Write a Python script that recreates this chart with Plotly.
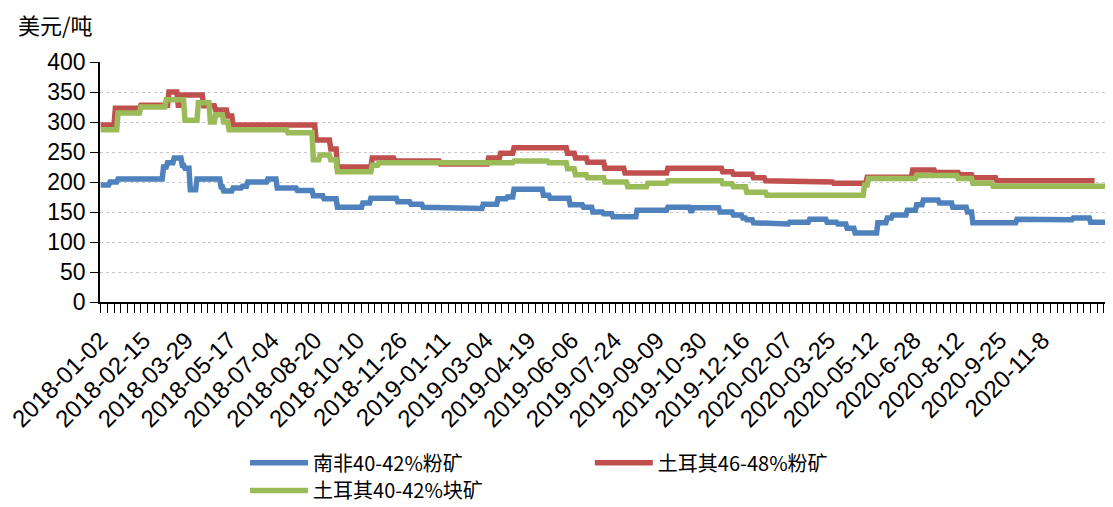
import plotly.graph_objects as go

# ---- data (run-length: start index -> value) ----
N = 755
tick_labels = ["2018-01-02", "2018-02-15", "2018-03-29", "2018-05-17", "2018-07-04",
               "2018-08-20", "2018-10-10", "2018-11-26", "2019-01-11", "2019-03-04",
               "2019-04-19", "2019-06-06", "2019-07-24", "2019-09-09", "2019-10-30",
               "2019-12-16", "2020-02-07", "2020-03-25", "2020-05-12", "2020-6-28",
               "2020-8-12", "2020-9-25", "2020-11-8"]
label_step = 32

sa_start = [0, 7, 13, 47, 50, 55, 61, 63, 67, 72, 90, 92, 99, 106, 110, 125, 132, 147,
            159, 167, 177, 196, 202, 222, 232, 241, 254, 286, 297, 304, 309, 331, 336,
            351, 361, 368, 376, 383, 401, 424, 441, 443, 463, 473, 480, 483, 488, 498,
            515, 530, 543, 551, 558, 564, 581, 588, 592, 603, 610, 615, 627, 637, 648,
            652, 685, 717, 727, 740]
sa_val = [195, 200, 205, 225, 232, 240, 228, 223, 187, 205, 192, 185, 190, 193, 200, 205,
          190, 186, 177, 172, 158, 165, 173, 167, 163, 158, 156, 163, 172, 175, 188, 178,
          173, 162, 158, 150, 147, 142, 153, 158, 152, 157, 150, 145, 140, 137, 132, 130,
          133, 138, 133, 130, 123, 115, 132, 140, 145, 153, 162, 170, 165, 158, 150, 132,
          138, 137, 140, 133]

tr46_start = [0, 11, 30, 51, 58, 61, 77, 86, 95, 99, 161, 172, 177, 203, 220, 254, 290,
              299, 309, 349, 355, 364, 377, 392, 424, 465, 473, 488, 497, 542, 548, 573,
              607, 624, 642, 652, 670]
tr46_val = [295, 323, 328, 350, 328, 345, 327, 320, 310, 295, 270, 255, 225, 240, 235, 230,
            240, 248, 257, 248, 240, 233, 223, 215, 223, 217, 213, 207, 202, 200, 198, 208,
            220, 216, 212, 207, 202]
tr46_end = 744

tr40_start = [0, 13, 30, 49, 63, 73, 82, 86, 92, 96, 140, 159, 164, 172, 177, 203, 208,
              309, 335, 349, 355, 364, 377, 394, 409, 424, 465, 473, 483, 498, 571, 574,
              610, 641, 652, 667]
tr40_val = [287, 315, 325, 337, 303, 332, 300, 312, 300, 287, 282, 237, 245, 237, 217, 228,
            232, 235, 232, 222, 212, 207, 200, 192, 198, 202, 197, 192, 183, 178, 195, 206,
            211, 206, 198, 193]


def expand(starts, vals, n, end=None):
    stop = n if end is None else end
    out = [None] * n
    for i, s in enumerate(starts):
        e = starts[i + 1] if i + 1 < len(starts) else stop
        for k in range(s, e):
            out[k] = vals[i]
    return out


x = list(range(N))
sa = expand(sa_start, sa_val, N)
tr46 = expand(tr46_start, tr46_val, N, tr46_end)
tr40 = expand(tr40_start, tr40_val, N)

LW = 5.5
fig = go.Figure()
fig.add_trace(go.Scatter(x=x, y=sa, mode="lines", name="南非40-42%粉矿",
                         line=dict(color="#4F81BD", width=LW), legend="legend"))
fig.add_trace(go.Scatter(x=x, y=tr46, mode="lines", name="土耳其46-48%粉矿",
                         line=dict(color="#C0504D", width=LW), legend="legend2"))
fig.add_trace(go.Scatter(x=x, y=tr40, mode="lines", name="土耳其40-42%块矿",
                         line=dict(color="#9BBB59", width=LW), legend="legend3"))

tickvals = [i * label_step for i in range(len(tick_labels))]

leg_font = dict(family="Noto Sans CJK SC", size=20, color="black")
common_leg = dict(orientation="v", xanchor="left", yanchor="middle", itemwidth=58,
                  font=leg_font, bgcolor="rgba(0,0,0,0)", borderwidth=0)

# page body has an 8px default margin, so the figure is 8px smaller than the window
fig.update_layout(
    width=1105, height=499,
    margin=dict(l=92, r=3, t=54, b=205, autoexpand=False),
    paper_bgcolor="white", plot_bgcolor="white",
    font=dict(family="Liberation Sans, Arial, sans-serif", color="black"),
    showlegend=True,
    legend=dict(x=0.1436, y=-0.67, **common_leg),
    legend2=dict(x=0.485, y=-0.67, **common_leg),
    legend3=dict(x=0.1436, y=-0.785, **common_leg),
    xaxis=dict(range=[-0.5, N - 0.5], tickmode="array", tickvals=tickvals,
               ticktext=tick_labels, tickangle=-45, ticks="", automargin=False,
               ticklabelstandoff=13, ticklabeloverflow="allow",
               tickfont=dict(size=24), showline=True, linecolor="black", linewidth=1.5,
               showgrid=False, zeroline=False,
               minor=dict(ticks="outside", dtick=5, tick0=0, ticklen=9,
                          tickcolor="black", tickwidth=1, showgrid=False)),
    yaxis=dict(range=[0, 400], dtick=50, tickfont=dict(size=23), ticks="outside",
               automargin=False, ticklabeloverflow="allow",
               ticklen=8, tickcolor="black", showline=True, linecolor="black",
               linewidth=1.5, showgrid=True, gridcolor="#C8C8C8", griddash="dot",
               gridwidth=1.2, zeroline=False),
    annotations=[dict(text="美元/吨", xref="paper", yref="paper", x=-0.083, y=1.158,
                      xanchor="left", yanchor="middle", showarrow=False,
                      font=dict(family="Noto Sans CJK SC", size=22, color="black"))],
)

fig.write_html("out.html")
